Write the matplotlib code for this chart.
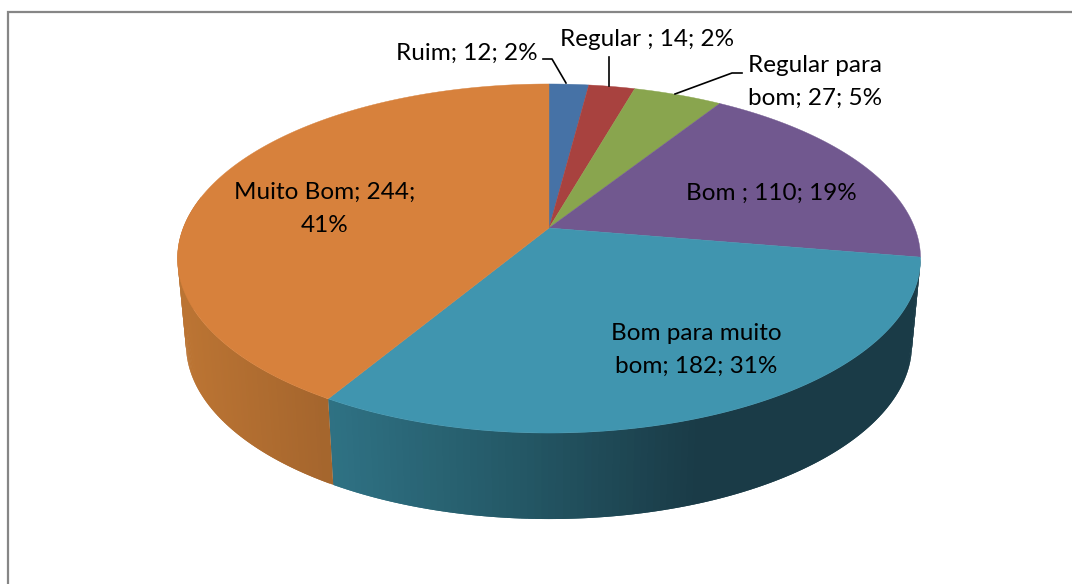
import numpy as np
import matplotlib
matplotlib.use('Agg')
import matplotlib.pyplot as plt
from matplotlib.collections import PolyCollection
from matplotlib.colors import to_rgb

# data
categories = ['Ruim', 'Regular ', 'Regular para bom', 'Bom ', 'Bom para muito bom', 'Muito Bom']
values = [12, 14, 27, 110, 182, 244]
percents = [2, 2, 5, 19, 31, 41]
top_colors = ['#4672A6', '#A8423F', '#89A54E', '#71588F', '#4095AF', '#D7813C']

# pie geometry in pixels
cx, cy = 549, 228
a, b, k = 365.8, 169.2, 0.1748
depth = 86
shrink = 0.977


def project(theta):
    u = np.sin(theta)
    v = np.cos(theta)
    w = 1 + k * v
    return cx + a * u / w, cy - b * v / w


fig = plt.figure(figsize=(10.72, 5.84), dpi=100)
ax = fig.add_axes([0, 0, 1, 1])
ax.set_xlim(0, 1072)
ax.set_ylim(584, 0)
ax.axis('off')

# chart border, only left and top show in the crop
ax.plot([8, 8, 1072], [584, 12, 12], color='#868686', lw=1.6, solid_joinstyle='miter')

edges = np.cumsum([0] + values) / sum(values) * 2 * np.pi


# side wall colours by x position
def side_color(i, x):
    if i == 5:
        xs = [186, 330]
        cs = [to_rgb('#BB7433'), to_rgb('#A4652D')]
    else:
        xs = [330, 520, 700]
        cs = [to_rgb('#2F7284'), to_rgb('#245866'), to_rgb('#1A3B47')]
    return tuple(np.interp(x, xs, [c[j] for c in cs]) for j in range(3))


for i in [4, 5]:
    # only the front part of the wall, from the widest point round
    lo = edges[i]
    hi = min(edges[i + 1], 2 * np.pi * 0.78)
    th = np.linspace(lo, hi, 120)
    polys = []
    cols = []
    # painted backwards and overlapping so no seams show between strips
    for j in range(len(th) - 2, -1, -1):
        mid = th[j:min(j + 3, len(th))]
        mx, my = project(mid)
        top = list(zip(mx, my))
        bot = list(zip(cx + (mx - cx) * shrink, my + depth))[::-1]
        polys.append(top + bot)
        cols.append(side_color(i, mx.mean()))
    ax.add_collection(PolyCollection(polys, facecolors=cols, edgecolors='none', zorder=2))

# top faces
for i, c in enumerate(top_colors):
    th = np.linspace(edges[i], edges[i + 1], 300)
    xs, ys = project(th)
    ax.fill(np.r_[cx, xs], np.r_[cy, ys], color=c, lw=0.3, zorder=3)

# leader lines
ax.plot([543, 552, 566], [59, 59, 83], color='black', lw=1.2, zorder=4)
ax.plot([609, 609], [57, 86], color='black', lw=1.2, zorder=4)
ax.plot([742, 732, 675], [73, 73, 94], color='black', lw=1.2, zorder=4)

# labels
label_text = [
    f'{categories[0]}; {values[0]}; {percents[0]}%',
    f'{categories[1]}; {values[1]}; {percents[1]}%',
    f'Regular para\nbom; {values[2]}; {percents[2]}%',
    f'{categories[3]}; {values[3]}; {percents[3]}%',
    f'Bom para muito\nbom; {values[4]}; {percents[4]}%',
    f'{categories[5]}; {values[5]};\n{percents[5]}%',
]
label_pos = [(467, 53), (647, 40), (815, 82), (771, 193), (696, 350), (325, 209)]
for s, (x, y) in zip(label_text, label_pos):
    ax.text(x, y, s, ha='center', va='center', fontsize=17.5, family='Lato',
            color='black', linespacing=1.7, zorder=5)

fig.savefig('out.png', dpi=100, facecolor='white')
